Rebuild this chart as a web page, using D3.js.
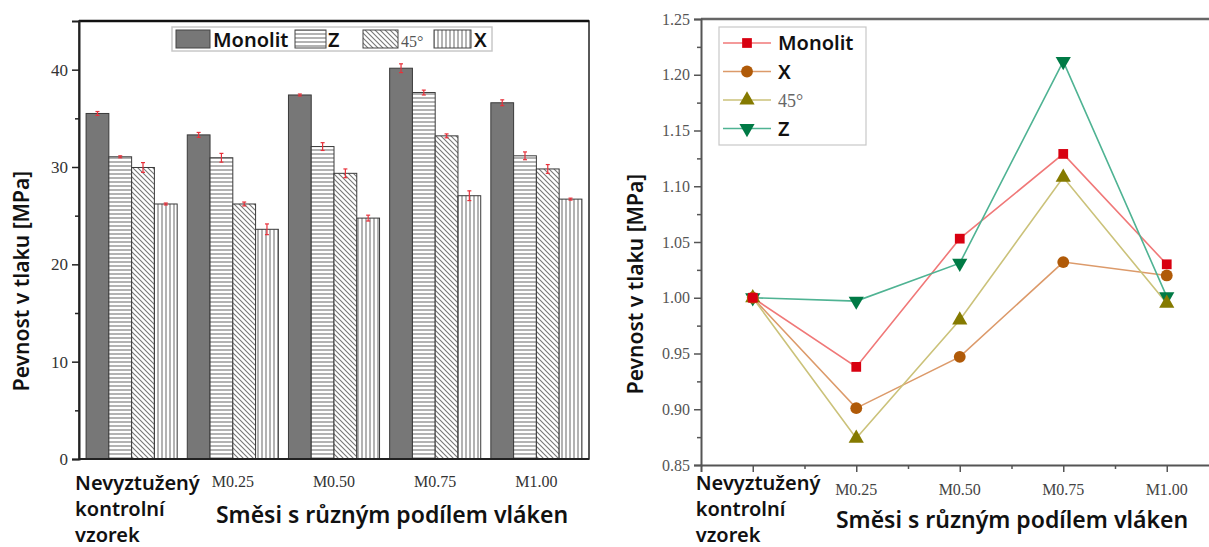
<!DOCTYPE html>
<html>
<head>
<meta charset="utf-8">
<script src="https://cdn.jsdelivr.net/npm/d3@7"></script>
<style>
  body { margin: 0; background: #fff; }
  svg { display: block; }
  .serif { font-family: "Liberation Serif", "DejaVu Serif", serif; }
  .sans { font-family: "Noto Sans", "Open Sans", sans-serif; font-weight: 600; }
</style>
</head>
<body>
<svg id="chart" width="1209" height="547"></svg>
<script>
// data
const groups = ["Nevyztužený", "M0.25", "M0.50", "M0.75", "M1.00"];
const series = ["Monolit", "Z", "45°", "X"];
const monolit = [35.5, 33.3, 37.4, 40.15, 36.6];
const zVals = [31.05, 30.95, 32.1, 37.65, 31.15];
const deg45 = [29.95, 26.2, 29.35, 33.2, 29.8];
const xVals = [26.2, 23.6, 24.75, 27.05, 26.7];
const monolitErr = [0.2, 0.25, 0.1, 0.45, 0.3];
const zErr = [0.1, 0.45, 0.4, 0.25, 0.4];
const deg45Err = [0.5, 0.2, 0.45, 0.2, 0.45];
const xErr = [0.1, 0.55, 0.3, 0.5, 0.1];

// relative values (right chart)
const relMonolit = [1.0, 0.938, 1.053, 1.129, 1.030];
const relX = [1.0, 0.901, 0.947, 1.032, 1.020];
const rel45 = [1.0, 0.874, 0.980, 1.108, 0.995];
const relZ = [1.0, 0.997, 1.031, 1.212, 1.001];

const yTicksLeft = [0, 10, 20, 30, 40];
const yTicksRight = [0.85, 0.90, 0.95, 1.00, 1.05, 1.10, 1.15, 1.20, 1.25];

const svg = d3.select("#chart");

// patterns for bars
const defs = svg.append("defs");
function pattern(id, size, draw) {
    const p = defs.append("pattern")
        .attr("id", id)
        .attr("patternUnits", "userSpaceOnUse")
        .attr("width", size).attr("height", size);
    p.append("rect").attr("width", size).attr("height", size).attr("fill", "#fff");
    draw(p);
}
pattern("horiz", 4, p => p.append("line").attr("x1", 0).attr("y1", 2).attr("x2", 4).attr("y2", 2)
    .attr("stroke", "#8a8a8a").attr("stroke-width", 1.3));
pattern("vert", 4, p => p.append("line").attr("x1", 2).attr("y1", 0).attr("x2", 2).attr("y2", 4)
    .attr("stroke", "#8a8a8a").attr("stroke-width", 1.3));
pattern("diag", 5, p => {
    p.append("path").attr("d", "M0,0 L5,5 M-1,4 L1,6 M4,-1 L6,1")
        .attr("stroke", "#777").attr("stroke-width", 1.1);
});

const fills = { "Monolit": "#777777", "Z": "url(#horiz)", "45°": "url(#diag)", "X": "url(#vert)" };
const barVals = { "Monolit": monolit, "Z": zVals, "45°": deg45, "X": xVals };
const barErr = { "Monolit": monolitErr, "Z": zErr, "45°": deg45Err, "X": xErr };

//---------- left chart: bars ----------
const L = { left: 79, right: 589, top: 21, bottom: 459 };

const x0 = d3.scaleBand().domain(groups).range([L.left, L.right])
    .paddingInner(0.1).paddingOuter(0.07);
const x1 = d3.scaleBand().domain(series).range([0, x0.bandwidth()]);
const yL = d3.scaleLinear().domain([0, 45]).range([L.bottom, L.top]);

const left = svg.append("g");

const barData = [];
groups.forEach((g, i) => series.forEach(s => {
    barData.push({ g: g, s: s, v: barVals[s][i], e: barErr[s][i] });
}));

left.selectAll("rect.bar")
    .data(barData)
    .enter()
    .append("rect")
    .attr("class", "bar")
    .attr("x", d => x0(d.g) + x1(d.s))
    .attr("y", d => yL(d.v))
    .attr("width", x1.bandwidth())
    .attr("height", d => yL(0) - yL(d.v))
    .attr("fill", d => fills[d.s])
    .attr("stroke", "#3a3a3a")
    .attr("stroke-width", 1);

// error bars
const err = left.append("g").attr("stroke", "#e8303a").attr("stroke-width", 1.2);
barData.forEach(d => {
    const cx = x0(d.g) + x1(d.s) + x1.bandwidth() / 2;
    err.append("line").attr("x1", cx).attr("x2", cx).attr("y1", yL(d.v + d.e)).attr("y2", yL(d.v - d.e));
    err.append("line").attr("x1", cx - 2).attr("x2", cx + 2).attr("y1", yL(d.v + d.e)).attr("y2", yL(d.v + d.e));
    err.append("line").attr("x1", cx - 2).attr("x2", cx + 2).attr("y1", yL(d.v - d.e)).attr("y2", yL(d.v - d.e));
});

// frame
left.append("rect")
    .attr("x", L.left).attr("y", L.top)
    .attr("width", L.right - L.left).attr("height", L.bottom - L.top)
    .attr("fill", "none").attr("stroke", "#222").attr("stroke-width", 1.5);
left.append("line").attr("x1", L.left).attr("x2", L.right).attr("y1", L.top).attr("y2", L.top)
    .attr("stroke", "#111").attr("stroke-width", 2.5);

// y axis
const yAxisL = left.append("g").attr("transform", `translate(${L.left},0)`)
    .call(d3.axisLeft(yL).tickValues(yTicksLeft).tickSize(7).tickPadding(4).tickFormat(d3.format("d")));
left.append("g").attr("transform", `translate(${L.left},0)`)
    .call(d3.axisLeft(yL).tickValues([5, 15, 25, 35]).tickSize(4).tickFormat(""))
    .call(g => g.select(".domain").remove());
yAxisL.selectAll("text").attr("class", "serif").attr("font-size", 17).attr("fill", "#333");
left.selectAll(".tick line").attr("stroke", "#222").attr("stroke-width", 1.5);
yAxisL.select(".domain").attr("stroke", "#222").attr("stroke-width", 2);

// bottom axis line
left.append("line").attr("x1", L.left).attr("x2", L.right).attr("y1", L.bottom).attr("y2", L.bottom)
    .attr("stroke", "#222").attr("stroke-width", 2.2);

// x labels
left.selectAll("text.xlab")
    .data(groups.slice(1))
    .enter()
    .append("text")
    .attr("class", "serif")
    .attr("x", d => x0(d) + x0.bandwidth() / 2)
    .attr("y", 487)
    .attr("text-anchor", "middle")
    .attr("font-size", 16)
    .attr("fill", "#333")
    .text(d => d);

function controlLabel(g, x, y, step) {
    const t = g.append("text").attr("class", "sans").attr("font-size", 20).attr("fill", "#111");
    ["Nevyztužený", "kontrolní", "vzorek"].forEach((w, i) => {
        t.append("tspan").attr("x", x).attr("y", y + i * step).text(w);
    });
}
controlLabel(left, x0(groups[0]) - 11, 490, 26);

left.append("text").attr("class", "sans")
    .attr("x", 392).attr("y", 523).attr("text-anchor", "middle")
    .attr("font-size", 23).attr("fill", "#111")
    .text("Směsi s různým podílem vláken");

left.append("text").attr("class", "sans")
    .attr("transform", "translate(29,281) rotate(-90)")
    .attr("text-anchor", "middle")
    .attr("font-size", 21).attr("fill", "#111")
    .text("Pevnost v tlaku [MPa]");

// legend (left)
const legL = left.append("g");
legL.append("rect").attr("x", 172).attr("y", 27).attr("width", 320).attr("height", 24)
    .attr("fill", "#fff").attr("stroke", "#c8c8c8").attr("stroke-width", 1.5);
const legPos = [
    { s: "Monolit", sx: 176, sw: 34, tx: 213 },
    { s: "Z", sx: 295, sw: 31, tx: 328 },
    { s: "45°", sx: 363, sw: 35, tx: 401 },
    { s: "X", sx: 434, sw: 37, tx: 474 }
];
legPos.forEach(d => {
    legL.append("rect").attr("x", d.sx).attr("y", 30).attr("width", d.sw).attr("height", 18)
        .attr("fill", fills[d.s]).attr("stroke", "#444").attr("stroke-width", 1);
    const t = legL.append("text").attr("x", d.tx).attr("y", 47);
    if (d.s === "45°") {
        t.attr("class", "serif").attr("font-size", 16).attr("fill", "#555").text(d.s);
    } else {
        t.attr("class", "sans").attr("font-size", 20).attr("fill", "#111").text(d.s);
    }
});

//---------- right chart: lines ----------
const R = { left: 701, right: 1218.5, top: 19, bottom: 465 };
const xR = d3.scaleLinear().domain([-0.5, 4.5]).range([R.left, R.right]);
const yR = d3.scaleLinear().domain([0.85, 1.25]).range([R.bottom, R.top]);

const right = svg.append("g");

right.append("line").attr("x1", R.left).attr("x2", 1209).attr("y1", R.top).attr("y2", R.top)
    .attr("stroke", "#666").attr("stroke-width", 2.5);

const yAxisR = right.append("g").attr("transform", `translate(${R.left},0)`)
    .call(d3.axisLeft(yR).tickValues(yTicksRight).tickSize(7).tickPadding(4).tickFormat(d3.format(".2f")));
right.append("g").attr("transform", `translate(${R.left},0)`)
    .call(d3.axisLeft(yR).tickValues(d3.range(8).map(i => yTicksRight[i] + 0.025)).tickSize(4).tickFormat(""))
    .call(g => g.select(".domain").remove());
yAxisR.selectAll("text").attr("class", "serif").attr("font-size", 16).attr("fill", "#555");

const xAxisR = right.append("g").attr("transform", `translate(0,${R.bottom})`)
    .call(d3.axisBottom(xR).tickValues([0, 1, 2, 3, 4]).tickSize(7).tickFormat(""));
right.append("g").attr("transform", `translate(0,${R.bottom})`)
    .call(d3.axisBottom(xR).tickValues([0.5, 1.5, 2.5, 3.5]).tickSize(4).tickFormat(""))
    .call(g => g.select(".domain").remove());
right.selectAll(".domain").attr("stroke", "#555").attr("stroke-width", 2);
right.selectAll(".tick line").attr("stroke", "#555").attr("stroke-width", 1.5);

right.selectAll("text.xlab")
    .data(groups.slice(1))
    .enter()
    .append("text")
    .attr("class", "serif")
    .attr("x", (d, i) => xR(i + 1))
    .attr("y", 495)
    .attr("text-anchor", "middle")
    .attr("font-size", 16)
    .attr("fill", "#444")
    .text(d => d);

controlLabel(right, xR(0) - 57, 490, 26);

right.append("text").attr("class", "sans")
    .attr("x", 1012).attr("y", 528).attr("text-anchor", "middle")
    .attr("font-size", 23).attr("fill", "#111")
    .text("Směsi s různým podílem vláken");

right.append("text").attr("class", "sans")
    .attr("transform", "translate(643,284) rotate(-90)")
    .attr("text-anchor", "middle")
    .attr("font-size", 21).attr("fill", "#111")
    .text("Pevnost v tlaku [MPa]");

const lines = [
    { name: "Monolit", vals: relMonolit, line: "#f07878", mark: "#d80010", sym: d3.symbolSquare, size: 95, rot: 0 },
    { name: "X", vals: relX, line: "#dc9a6a", mark: "#b05a08", sym: d3.symbolCircle, size: 110, rot: 0 },
    { name: "45°", vals: rel45, line: "#cbc27a", mark: "#857a00", sym: d3.symbolTriangle, size: 100, rot: 0 },
    { name: "Z", vals: relZ, line: "#4fb393", mark: "#007a45", sym: d3.symbolTriangle, size: 100, rot: 180 }
];

const lineGen = d3.line().x((d, i) => xR(i)).y(d => yR(d));

lines.forEach(s => {
    right.append("path").datum(s.vals)
        .attr("d", lineGen).attr("fill", "none")
        .attr("stroke", s.line).attr("stroke-width", 1.6);
});
lines.slice().reverse().forEach(s => {
    right.selectAll(null).data(s.vals).enter().append("path")
        .attr("d", d3.symbol().type(s.sym).size(s.size))
        .attr("transform", (d, i) => `translate(${xR(i)},${yR(d)}) rotate(${s.rot})`)
        .attr("fill", s.mark);
});

// legend (right)
const legR = right.append("g");
legR.append("rect").attr("x", 719).attr("y", 27).attr("width", 147).attr("height", 118)
    .attr("fill", "#fff").attr("stroke", "#c8c8c8").attr("stroke-width", 1.2);
lines.forEach((s, i) => {
    const y = 43 + i * 28.5;
    legR.append("line").attr("x1", 723).attr("x2", 771).attr("y1", y).attr("y2", y)
        .attr("stroke", s.line).attr("stroke-width", 1.6);
    legR.append("path").attr("d", d3.symbol().type(s.sym).size(s.size))
        .attr("transform", `translate(747,${y}) rotate(${s.rot})`).attr("fill", s.mark);
    const t = legR.append("text").attr("x", 778).attr("y", y + 7);
    if (s.name === "45°") {
        t.attr("class", "serif").attr("font-size", 18).attr("fill", "#666").text(s.name);
    } else {
        t.attr("class", "sans").attr("font-size", 20).attr("fill", "#111").text(s.name);
    }
});
</script>
</body>
</html>
